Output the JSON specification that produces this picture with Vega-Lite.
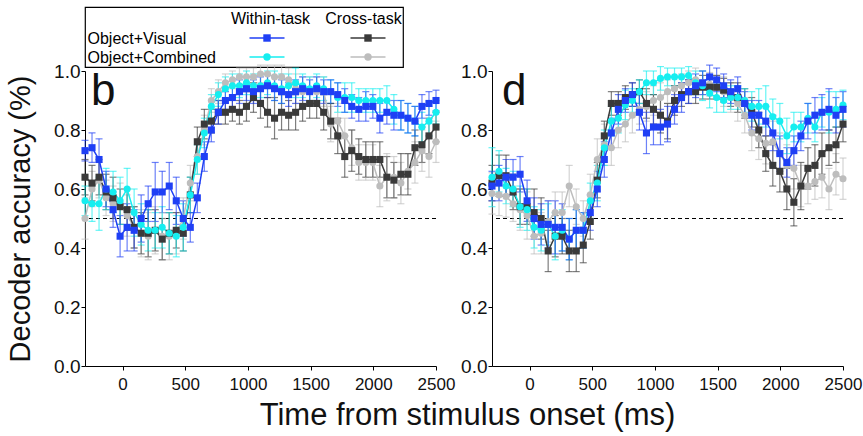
{
"$schema": "https://vega.github.io/schema/vega-lite/v6.json",
"background": "white",
"padding": {"left": 6, "top": 6, "right": 2, "bottom": 2},
"config": {"font": "Liberation Sans", "view": {"stroke": null}},
"datasets": {
"legend": [
{"col":"Within-task","row":"Object+Visual","s":"OV-W"},
{"col":"Cross-task","row":"Object+Visual","s":"OV-C"},
{"col":"Within-task","row":"Object+Combined","s":"OC-W"},
{"col":"Cross-task","row":"Object+Combined","s":"OC-C"}
],
"main": [
{"p":"b","s":"OC-C","t":-300,"v":0.50,"e":0.07},{"p":"b","s":"OC-C","t":-244,"v":0.60,"e":0.06},{"p":"b","s":"OC-C","t":-188,"v":0.63,"e":0.06},{"p":"b","s":"OC-C","t":-132,"v":0.57,"e":0.06},{"p":"b","s":"OC-C","t":-76,"v":0.55,"e":0.06},{"p":"b","s":"OC-C","t":-20,"v":0.55,"e":0.07},{"p":"b","s":"OC-C","t":36,"v":0.51,"e":0.07},{"p":"b","s":"OC-C","t":92,"v":0.47,"e":0.07},{"p":"b","s":"OC-C","t":148,"v":0.45,"e":0.08},{"p":"b","s":"OC-C","t":204,"v":0.44,"e":0.08},{"p":"b","s":"OC-C","t":260,"v":0.46,"e":0.08},{"p":"b","s":"OC-C","t":316,"v":0.44,"e":0.08},{"p":"b","s":"OC-C","t":372,"v":0.44,"e":0.08},{"p":"b","s":"OC-C","t":428,"v":0.45,"e":0.07},{"p":"b","s":"OC-C","t":484,"v":0.50,"e":0.07},{"p":"b","s":"OC-C","t":540,"v":0.62,"e":0.06},{"p":"b","s":"OC-C","t":596,"v":0.71,"e":0.06},{"p":"b","s":"OC-C","t":652,"v":0.80,"e":0.05},{"p":"b","s":"OC-C","t":708,"v":0.90,"e":0.04},{"p":"b","s":"OC-C","t":764,"v":0.93,"e":0.04},{"p":"b","s":"OC-C","t":820,"v":0.96,"e":0.03},{"p":"b","s":"OC-C","t":876,"v":0.97,"e":0.03},{"p":"b","s":"OC-C","t":932,"v":0.98,"e":0.03},{"p":"b","s":"OC-C","t":988,"v":0.98,"e":0.03},{"p":"b","s":"OC-C","t":1044,"v":0.98,"e":0.03},{"p":"b","s":"OC-C","t":1100,"v":0.99,"e":0.03},{"p":"b","s":"OC-C","t":1156,"v":0.99,"e":0.03},{"p":"b","s":"OC-C","t":1212,"v":0.98,"e":0.04},{"p":"b","s":"OC-C","t":1268,"v":0.98,"e":0.04},{"p":"b","s":"OC-C","t":1324,"v":0.97,"e":0.04},{"p":"b","s":"OC-C","t":1380,"v":0.94,"e":0.05},{"p":"b","s":"OC-C","t":1436,"v":0.93,"e":0.05},{"p":"b","s":"OC-C","t":1492,"v":0.93,"e":0.05},{"p":"b","s":"OC-C","t":1548,"v":0.93,"e":0.05},{"p":"b","s":"OC-C","t":1604,"v":0.93,"e":0.05},{"p":"b","s":"OC-C","t":1660,"v":0.82,"e":0.06},{"p":"b","s":"OC-C","t":1716,"v":0.83,"e":0.06},{"p":"b","s":"OC-C","t":1772,"v":0.78,"e":0.06},{"p":"b","s":"OC-C","t":1828,"v":0.74,"e":0.06},{"p":"b","s":"OC-C","t":1884,"v":0.69,"e":0.06},{"p":"b","s":"OC-C","t":1940,"v":0.69,"e":0.06},{"p":"b","s":"OC-C","t":1996,"v":0.69,"e":0.06},{"p":"b","s":"OC-C","t":2052,"v":0.61,"e":0.07},{"p":"b","s":"OC-C","t":2108,"v":0.64,"e":0.08},{"p":"b","s":"OC-C","t":2164,"v":0.64,"e":0.07},{"p":"b","s":"OC-C","t":2220,"v":0.62,"e":0.07},{"p":"b","s":"OC-C","t":2276,"v":0.66,"e":0.06},{"p":"b","s":"OC-C","t":2332,"v":0.69,"e":0.07},{"p":"b","s":"OC-C","t":2388,"v":0.73,"e":0.07},{"p":"b","s":"OC-C","t":2444,"v":0.71,"e":0.07},{"p":"b","s":"OC-C","t":2500,"v":0.76,"e":0.07},
{"p":"b","s":"OV-C","t":-300,"v":0.64,"e":0.06},{"p":"b","s":"OV-C","t":-244,"v":0.62,"e":0.06},{"p":"b","s":"OV-C","t":-188,"v":0.64,"e":0.06},{"p":"b","s":"OV-C","t":-132,"v":0.59,"e":0.06},{"p":"b","s":"OV-C","t":-76,"v":0.57,"e":0.07},{"p":"b","s":"OV-C","t":-20,"v":0.54,"e":0.06},{"p":"b","s":"OV-C","t":36,"v":0.53,"e":0.07},{"p":"b","s":"OV-C","t":92,"v":0.47,"e":0.07},{"p":"b","s":"OV-C","t":148,"v":0.45,"e":0.07},{"p":"b","s":"OV-C","t":204,"v":0.45,"e":0.08},{"p":"b","s":"OV-C","t":260,"v":0.46,"e":0.07},{"p":"b","s":"OV-C","t":316,"v":0.43,"e":0.07},{"p":"b","s":"OV-C","t":372,"v":0.45,"e":0.07},{"p":"b","s":"OV-C","t":428,"v":0.46,"e":0.06},{"p":"b","s":"OV-C","t":484,"v":0.45,"e":0.06},{"p":"b","s":"OV-C","t":540,"v":0.58,"e":0.06},{"p":"b","s":"OV-C","t":596,"v":0.76,"e":0.05},{"p":"b","s":"OV-C","t":652,"v":0.82,"e":0.05},{"p":"b","s":"OV-C","t":708,"v":0.83,"e":0.04},{"p":"b","s":"OV-C","t":764,"v":0.86,"e":0.04},{"p":"b","s":"OV-C","t":820,"v":0.86,"e":0.04},{"p":"b","s":"OV-C","t":876,"v":0.87,"e":0.04},{"p":"b","s":"OV-C","t":932,"v":0.86,"e":0.04},{"p":"b","s":"OV-C","t":988,"v":0.88,"e":0.05},{"p":"b","s":"OV-C","t":1044,"v":0.91,"e":0.05},{"p":"b","s":"OV-C","t":1100,"v":0.89,"e":0.05},{"p":"b","s":"OV-C","t":1156,"v":0.86,"e":0.05},{"p":"b","s":"OV-C","t":1212,"v":0.84,"e":0.07},{"p":"b","s":"OV-C","t":1268,"v":0.86,"e":0.06},{"p":"b","s":"OV-C","t":1324,"v":0.85,"e":0.05},{"p":"b","s":"OV-C","t":1380,"v":0.86,"e":0.06},{"p":"b","s":"OV-C","t":1436,"v":0.88,"e":0.05},{"p":"b","s":"OV-C","t":1492,"v":0.89,"e":0.05},{"p":"b","s":"OV-C","t":1548,"v":0.89,"e":0.05},{"p":"b","s":"OV-C","t":1604,"v":0.86,"e":0.06},{"p":"b","s":"OV-C","t":1660,"v":0.83,"e":0.06},{"p":"b","s":"OV-C","t":1716,"v":0.78,"e":0.06},{"p":"b","s":"OV-C","t":1772,"v":0.71,"e":0.07},{"p":"b","s":"OV-C","t":1828,"v":0.73,"e":0.07},{"p":"b","s":"OV-C","t":1884,"v":0.71,"e":0.06},{"p":"b","s":"OV-C","t":1940,"v":0.70,"e":0.06},{"p":"b","s":"OV-C","t":1996,"v":0.70,"e":0.06},{"p":"b","s":"OV-C","t":2052,"v":0.70,"e":0.06},{"p":"b","s":"OV-C","t":2108,"v":0.64,"e":0.07},{"p":"b","s":"OV-C","t":2164,"v":0.63,"e":0.06},{"p":"b","s":"OV-C","t":2220,"v":0.65,"e":0.07},{"p":"b","s":"OV-C","t":2276,"v":0.65,"e":0.07},{"p":"b","s":"OV-C","t":2332,"v":0.74,"e":0.06},{"p":"b","s":"OV-C","t":2388,"v":0.75,"e":0.06},{"p":"b","s":"OV-C","t":2444,"v":0.78,"e":0.06},{"p":"b","s":"OV-C","t":2500,"v":0.81,"e":0.05},
{"p":"b","s":"OC-W","t":-300,"v":0.56,"e":0.05},{"p":"b","s":"OC-W","t":-244,"v":0.55,"e":0.06},{"p":"b","s":"OC-W","t":-188,"v":0.55,"e":0.09},{"p":"b","s":"OC-W","t":-132,"v":0.60,"e":0.07},{"p":"b","s":"OC-W","t":-76,"v":0.59,"e":0.07},{"p":"b","s":"OC-W","t":-20,"v":0.56,"e":0.08},{"p":"b","s":"OC-W","t":36,"v":0.60,"e":0.07},{"p":"b","s":"OC-W","t":92,"v":0.52,"e":0.08},{"p":"b","s":"OC-W","t":148,"v":0.48,"e":0.07},{"p":"b","s":"OC-W","t":204,"v":0.46,"e":0.07},{"p":"b","s":"OC-W","t":260,"v":0.46,"e":0.06},{"p":"b","s":"OC-W","t":316,"v":0.47,"e":0.07},{"p":"b","s":"OC-W","t":372,"v":0.45,"e":0.07},{"p":"b","s":"OC-W","t":428,"v":0.44,"e":0.07},{"p":"b","s":"OC-W","t":484,"v":0.47,"e":0.08},{"p":"b","s":"OC-W","t":540,"v":0.58,"e":0.06},{"p":"b","s":"OC-W","t":596,"v":0.70,"e":0.05},{"p":"b","s":"OC-W","t":652,"v":0.79,"e":0.05},{"p":"b","s":"OC-W","t":708,"v":0.88,"e":0.04},{"p":"b","s":"OC-W","t":764,"v":0.92,"e":0.04},{"p":"b","s":"OC-W","t":820,"v":0.94,"e":0.04},{"p":"b","s":"OC-W","t":876,"v":0.95,"e":0.04},{"p":"b","s":"OC-W","t":932,"v":0.95,"e":0.04},{"p":"b","s":"OC-W","t":988,"v":0.96,"e":0.04},{"p":"b","s":"OC-W","t":1044,"v":0.95,"e":0.04},{"p":"b","s":"OC-W","t":1100,"v":0.95,"e":0.04},{"p":"b","s":"OC-W","t":1156,"v":0.96,"e":0.04},{"p":"b","s":"OC-W","t":1212,"v":0.95,"e":0.05},{"p":"b","s":"OC-W","t":1268,"v":0.94,"e":0.05},{"p":"b","s":"OC-W","t":1324,"v":0.95,"e":0.04},{"p":"b","s":"OC-W","t":1380,"v":0.96,"e":0.05},{"p":"b","s":"OC-W","t":1436,"v":0.95,"e":0.04},{"p":"b","s":"OC-W","t":1492,"v":0.94,"e":0.04},{"p":"b","s":"OC-W","t":1548,"v":0.95,"e":0.04},{"p":"b","s":"OC-W","t":1604,"v":0.94,"e":0.04},{"p":"b","s":"OC-W","t":1660,"v":0.93,"e":0.04},{"p":"b","s":"OC-W","t":1716,"v":0.91,"e":0.05},{"p":"b","s":"OC-W","t":1772,"v":0.91,"e":0.05},{"p":"b","s":"OC-W","t":1828,"v":0.91,"e":0.05},{"p":"b","s":"OC-W","t":1884,"v":0.90,"e":0.04},{"p":"b","s":"OC-W","t":1940,"v":0.90,"e":0.04},{"p":"b","s":"OC-W","t":1996,"v":0.90,"e":0.04},{"p":"b","s":"OC-W","t":2052,"v":0.90,"e":0.04},{"p":"b","s":"OC-W","t":2108,"v":0.90,"e":0.05},{"p":"b","s":"OC-W","t":2164,"v":0.87,"e":0.05},{"p":"b","s":"OC-W","t":2220,"v":0.85,"e":0.05},{"p":"b","s":"OC-W","t":2276,"v":0.84,"e":0.05},{"p":"b","s":"OC-W","t":2332,"v":0.83,"e":0.05},{"p":"b","s":"OC-W","t":2388,"v":0.81,"e":0.05},{"p":"b","s":"OC-W","t":2444,"v":0.83,"e":0.05},{"p":"b","s":"OC-W","t":2500,"v":0.86,"e":0.04},
{"p":"b","s":"OV-W","t":-300,"v":0.73,"e":0.035},{"p":"b","s":"OV-W","t":-244,"v":0.74,"e":0.05},{"p":"b","s":"OV-W","t":-188,"v":0.70,"e":0.07},{"p":"b","s":"OV-W","t":-132,"v":0.60,"e":0.06},{"p":"b","s":"OV-W","t":-76,"v":0.53,"e":0.06},{"p":"b","s":"OV-W","t":-20,"v":0.44,"e":0.07},{"p":"b","s":"OV-W","t":36,"v":0.47,"e":0.08},{"p":"b","s":"OV-W","t":92,"v":0.46,"e":0.07},{"p":"b","s":"OV-W","t":148,"v":0.50,"e":0.08},{"p":"b","s":"OV-W","t":204,"v":0.55,"e":0.06},{"p":"b","s":"OV-W","t":260,"v":0.59,"e":0.10},{"p":"b","s":"OV-W","t":316,"v":0.59,"e":0.07},{"p":"b","s":"OV-W","t":372,"v":0.61,"e":0.08},{"p":"b","s":"OV-W","t":428,"v":0.56,"e":0.08},{"p":"b","s":"OV-W","t":484,"v":0.50,"e":0.06},{"p":"b","s":"OV-W","t":540,"v":0.47,"e":0.05},{"p":"b","s":"OV-W","t":596,"v":0.57,"e":0.05},{"p":"b","s":"OV-W","t":652,"v":0.71,"e":0.05},{"p":"b","s":"OV-W","t":708,"v":0.80,"e":0.04},{"p":"b","s":"OV-W","t":764,"v":0.86,"e":0.04},{"p":"b","s":"OV-W","t":820,"v":0.90,"e":0.03},{"p":"b","s":"OV-W","t":876,"v":0.91,"e":0.04},{"p":"b","s":"OV-W","t":932,"v":0.93,"e":0.04},{"p":"b","s":"OV-W","t":988,"v":0.94,"e":0.04},{"p":"b","s":"OV-W","t":1044,"v":0.93,"e":0.04},{"p":"b","s":"OV-W","t":1100,"v":0.94,"e":0.04},{"p":"b","s":"OV-W","t":1156,"v":0.95,"e":0.04},{"p":"b","s":"OV-W","t":1212,"v":0.94,"e":0.04},{"p":"b","s":"OV-W","t":1268,"v":0.93,"e":0.04},{"p":"b","s":"OV-W","t":1324,"v":0.92,"e":0.04},{"p":"b","s":"OV-W","t":1380,"v":0.93,"e":0.04},{"p":"b","s":"OV-W","t":1436,"v":0.94,"e":0.04},{"p":"b","s":"OV-W","t":1492,"v":0.93,"e":0.04},{"p":"b","s":"OV-W","t":1548,"v":0.94,"e":0.04},{"p":"b","s":"OV-W","t":1604,"v":0.93,"e":0.04},{"p":"b","s":"OV-W","t":1660,"v":0.93,"e":0.04},{"p":"b","s":"OV-W","t":1716,"v":0.92,"e":0.04},{"p":"b","s":"OV-W","t":1772,"v":0.90,"e":0.04},{"p":"b","s":"OV-W","t":1828,"v":0.88,"e":0.04},{"p":"b","s":"OV-W","t":1884,"v":0.87,"e":0.04},{"p":"b","s":"OV-W","t":1940,"v":0.88,"e":0.05},{"p":"b","s":"OV-W","t":1996,"v":0.88,"e":0.04},{"p":"b","s":"OV-W","t":2052,"v":0.84,"e":0.05},{"p":"b","s":"OV-W","t":2108,"v":0.86,"e":0.04},{"p":"b","s":"OV-W","t":2164,"v":0.85,"e":0.05},{"p":"b","s":"OV-W","t":2220,"v":0.85,"e":0.05},{"p":"b","s":"OV-W","t":2276,"v":0.84,"e":0.05},{"p":"b","s":"OV-W","t":2332,"v":0.83,"e":0.05},{"p":"b","s":"OV-W","t":2388,"v":0.88,"e":0.04},{"p":"b","s":"OV-W","t":2444,"v":0.89,"e":0.04},{"p":"b","s":"OV-W","t":2500,"v":0.90,"e":0.035},
{"p":"d","s":"OC-C","t":-300,"v":0.585,"e":0.07},{"p":"d","s":"OC-C","t":-244,"v":0.58,"e":0.07},{"p":"d","s":"OC-C","t":-188,"v":0.575,"e":0.07},{"p":"d","s":"OC-C","t":-132,"v":0.55,"e":0.06},{"p":"d","s":"OC-C","t":-76,"v":0.53,"e":0.07},{"p":"d","s":"OC-C","t":-20,"v":0.51,"e":0.08},{"p":"d","s":"OC-C","t":36,"v":0.44,"e":0.06},{"p":"d","s":"OC-C","t":92,"v":0.45,"e":0.07},{"p":"d","s":"OC-C","t":148,"v":0.49,"e":0.07},{"p":"d","s":"OC-C","t":204,"v":0.52,"e":0.07},{"p":"d","s":"OC-C","t":260,"v":0.52,"e":0.07},{"p":"d","s":"OC-C","t":316,"v":0.61,"e":0.07},{"p":"d","s":"OC-C","t":372,"v":0.54,"e":0.06},{"p":"d","s":"OC-C","t":428,"v":0.50,"e":0.06},{"p":"d","s":"OC-C","t":484,"v":0.58,"e":0.07},{"p":"d","s":"OC-C","t":540,"v":0.70,"e":0.07},{"p":"d","s":"OC-C","t":596,"v":0.75,"e":0.07},{"p":"d","s":"OC-C","t":652,"v":0.74,"e":0.06},{"p":"d","s":"OC-C","t":708,"v":0.80,"e":0.06},{"p":"d","s":"OC-C","t":764,"v":0.82,"e":0.06},{"p":"d","s":"OC-C","t":820,"v":0.85,"e":0.06},{"p":"d","s":"OC-C","t":876,"v":0.87,"e":0.05},{"p":"d","s":"OC-C","t":932,"v":0.88,"e":0.05},{"p":"d","s":"OC-C","t":988,"v":0.90,"e":0.05},{"p":"d","s":"OC-C","t":1044,"v":0.91,"e":0.05},{"p":"d","s":"OC-C","t":1100,"v":0.93,"e":0.04},{"p":"d","s":"OC-C","t":1156,"v":0.94,"e":0.04},{"p":"d","s":"OC-C","t":1212,"v":0.95,"e":0.04},{"p":"d","s":"OC-C","t":1268,"v":0.96,"e":0.04},{"p":"d","s":"OC-C","t":1324,"v":0.97,"e":0.04},{"p":"d","s":"OC-C","t":1380,"v":0.96,"e":0.04},{"p":"d","s":"OC-C","t":1436,"v":0.955,"e":0.04},{"p":"d","s":"OC-C","t":1492,"v":0.945,"e":0.04},{"p":"d","s":"OC-C","t":1548,"v":0.93,"e":0.05},{"p":"d","s":"OC-C","t":1604,"v":0.91,"e":0.05},{"p":"d","s":"OC-C","t":1660,"v":0.89,"e":0.06},{"p":"d","s":"OC-C","t":1716,"v":0.85,"e":0.06},{"p":"d","s":"OC-C","t":1772,"v":0.79,"e":0.06},{"p":"d","s":"OC-C","t":1828,"v":0.77,"e":0.07},{"p":"d","s":"OC-C","t":1884,"v":0.755,"e":0.07},{"p":"d","s":"OC-C","t":1940,"v":0.76,"e":0.07},{"p":"d","s":"OC-C","t":1996,"v":0.72,"e":0.07},{"p":"d","s":"OC-C","t":2052,"v":0.68,"e":0.07},{"p":"d","s":"OC-C","t":2108,"v":0.67,"e":0.07},{"p":"d","s":"OC-C","t":2164,"v":0.61,"e":0.07},{"p":"d","s":"OC-C","t":2220,"v":0.61,"e":0.06},{"p":"d","s":"OC-C","t":2276,"v":0.625,"e":0.06},{"p":"d","s":"OC-C","t":2332,"v":0.64,"e":0.07},{"p":"d","s":"OC-C","t":2388,"v":0.60,"e":0.07},{"p":"d","s":"OC-C","t":2444,"v":0.65,"e":0.07},{"p":"d","s":"OC-C","t":2500,"v":0.635,"e":0.07},
{"p":"d","s":"OV-C","t":-300,"v":0.62,"e":0.06},{"p":"d","s":"OV-C","t":-244,"v":0.645,"e":0.07},{"p":"d","s":"OV-C","t":-188,"v":0.645,"e":0.07},{"p":"d","s":"OV-C","t":-132,"v":0.59,"e":0.06},{"p":"d","s":"OV-C","t":-76,"v":0.54,"e":0.06},{"p":"d","s":"OV-C","t":-20,"v":0.54,"e":0.06},{"p":"d","s":"OV-C","t":36,"v":0.52,"e":0.08},{"p":"d","s":"OV-C","t":92,"v":0.50,"e":0.07},{"p":"d","s":"OV-C","t":148,"v":0.39,"e":0.07},{"p":"d","s":"OV-C","t":204,"v":0.44,"e":0.07},{"p":"d","s":"OV-C","t":260,"v":0.44,"e":0.06},{"p":"d","s":"OV-C","t":316,"v":0.39,"e":0.07},{"p":"d","s":"OV-C","t":372,"v":0.39,"e":0.07},{"p":"d","s":"OV-C","t":428,"v":0.41,"e":0.06},{"p":"d","s":"OV-C","t":484,"v":0.49,"e":0.06},{"p":"d","s":"OV-C","t":540,"v":0.63,"e":0.06},{"p":"d","s":"OV-C","t":596,"v":0.78,"e":0.05},{"p":"d","s":"OV-C","t":652,"v":0.89,"e":0.04},{"p":"d","s":"OV-C","t":708,"v":0.89,"e":0.04},{"p":"d","s":"OV-C","t":764,"v":0.91,"e":0.04},{"p":"d","s":"OV-C","t":820,"v":0.92,"e":0.04},{"p":"d","s":"OV-C","t":876,"v":0.93,"e":0.04},{"p":"d","s":"OV-C","t":932,"v":0.89,"e":0.05},{"p":"d","s":"OV-C","t":988,"v":0.87,"e":0.05},{"p":"d","s":"OV-C","t":1044,"v":0.85,"e":0.06},{"p":"d","s":"OV-C","t":1100,"v":0.83,"e":0.06},{"p":"d","s":"OV-C","t":1156,"v":0.90,"e":0.05},{"p":"d","s":"OV-C","t":1212,"v":0.92,"e":0.04},{"p":"d","s":"OV-C","t":1268,"v":0.93,"e":0.04},{"p":"d","s":"OV-C","t":1324,"v":0.93,"e":0.04},{"p":"d","s":"OV-C","t":1380,"v":0.945,"e":0.04},{"p":"d","s":"OV-C","t":1436,"v":0.945,"e":0.04},{"p":"d","s":"OV-C","t":1492,"v":0.945,"e":0.04},{"p":"d","s":"OV-C","t":1548,"v":0.935,"e":0.04},{"p":"d","s":"OV-C","t":1604,"v":0.92,"e":0.04},{"p":"d","s":"OV-C","t":1660,"v":0.91,"e":0.05},{"p":"d","s":"OV-C","t":1716,"v":0.89,"e":0.05},{"p":"d","s":"OV-C","t":1772,"v":0.86,"e":0.05},{"p":"d","s":"OV-C","t":1828,"v":0.80,"e":0.06},{"p":"d","s":"OV-C","t":1884,"v":0.72,"e":0.06},{"p":"d","s":"OV-C","t":1940,"v":0.68,"e":0.07},{"p":"d","s":"OV-C","t":1996,"v":0.66,"e":0.07},{"p":"d","s":"OV-C","t":2052,"v":0.60,"e":0.07},{"p":"d","s":"OV-C","t":2108,"v":0.555,"e":0.08},{"p":"d","s":"OV-C","t":2164,"v":0.61,"e":0.08},{"p":"d","s":"OV-C","t":2220,"v":0.67,"e":0.07},{"p":"d","s":"OV-C","t":2276,"v":0.68,"e":0.07},{"p":"d","s":"OV-C","t":2332,"v":0.72,"e":0.07},{"p":"d","s":"OV-C","t":2388,"v":0.74,"e":0.06},{"p":"d","s":"OV-C","t":2444,"v":0.75,"e":0.06},{"p":"d","s":"OV-C","t":2500,"v":0.82,"e":0.06},
{"p":"d","s":"OC-W","t":-300,"v":0.64,"e":0.10},{"p":"d","s":"OC-W","t":-244,"v":0.66,"e":0.07},{"p":"d","s":"OC-W","t":-188,"v":0.61,"e":0.06},{"p":"d","s":"OC-W","t":-132,"v":0.60,"e":0.06},{"p":"d","s":"OC-W","t":-76,"v":0.54,"e":0.07},{"p":"d","s":"OC-W","t":-20,"v":0.53,"e":0.07},{"p":"d","s":"OC-W","t":36,"v":0.47,"e":0.07},{"p":"d","s":"OC-W","t":92,"v":0.46,"e":0.07},{"p":"d","s":"OC-W","t":148,"v":0.48,"e":0.07},{"p":"d","s":"OC-W","t":204,"v":0.44,"e":0.08},{"p":"d","s":"OC-W","t":260,"v":0.46,"e":0.07},{"p":"d","s":"OC-W","t":316,"v":0.43,"e":0.07},{"p":"d","s":"OC-W","t":372,"v":0.46,"e":0.07},{"p":"d","s":"OC-W","t":428,"v":0.46,"e":0.06},{"p":"d","s":"OC-W","t":484,"v":0.56,"e":0.06},{"p":"d","s":"OC-W","t":540,"v":0.62,"e":0.06},{"p":"d","s":"OC-W","t":596,"v":0.74,"e":0.06},{"p":"d","s":"OC-W","t":652,"v":0.83,"e":0.05},{"p":"d","s":"OC-W","t":708,"v":0.84,"e":0.05},{"p":"d","s":"OC-W","t":764,"v":0.885,"e":0.05},{"p":"d","s":"OC-W","t":820,"v":0.90,"e":0.04},{"p":"d","s":"OC-W","t":876,"v":0.93,"e":0.04},{"p":"d","s":"OC-W","t":932,"v":0.96,"e":0.04},{"p":"d","s":"OC-W","t":988,"v":0.96,"e":0.04},{"p":"d","s":"OC-W","t":1044,"v":0.975,"e":0.04},{"p":"d","s":"OC-W","t":1100,"v":0.98,"e":0.03},{"p":"d","s":"OC-W","t":1156,"v":0.98,"e":0.03},{"p":"d","s":"OC-W","t":1212,"v":0.98,"e":0.03},{"p":"d","s":"OC-W","t":1268,"v":0.985,"e":0.03},{"p":"d","s":"OC-W","t":1324,"v":0.96,"e":0.04},{"p":"d","s":"OC-W","t":1380,"v":0.95,"e":0.05},{"p":"d","s":"OC-W","t":1436,"v":0.925,"e":0.05},{"p":"d","s":"OC-W","t":1492,"v":0.91,"e":0.05},{"p":"d","s":"OC-W","t":1548,"v":0.90,"e":0.04},{"p":"d","s":"OC-W","t":1604,"v":0.91,"e":0.04},{"p":"d","s":"OC-W","t":1660,"v":0.91,"e":0.04},{"p":"d","s":"OC-W","t":1716,"v":0.90,"e":0.04},{"p":"d","s":"OC-W","t":1772,"v":0.88,"e":0.05},{"p":"d","s":"OC-W","t":1828,"v":0.88,"e":0.06},{"p":"d","s":"OC-W","t":1884,"v":0.88,"e":0.07},{"p":"d","s":"OC-W","t":1940,"v":0.845,"e":0.06},{"p":"d","s":"OC-W","t":1996,"v":0.83,"e":0.06},{"p":"d","s":"OC-W","t":2052,"v":0.78,"e":0.06},{"p":"d","s":"OC-W","t":2108,"v":0.81,"e":0.05},{"p":"d","s":"OC-W","t":2164,"v":0.81,"e":0.05},{"p":"d","s":"OC-W","t":2220,"v":0.84,"e":0.05},{"p":"d","s":"OC-W","t":2276,"v":0.81,"e":0.05},{"p":"d","s":"OC-W","t":2332,"v":0.86,"e":0.05},{"p":"d","s":"OC-W","t":2388,"v":0.86,"e":0.07},{"p":"d","s":"OC-W","t":2444,"v":0.87,"e":0.06},{"p":"d","s":"OC-W","t":2500,"v":0.885,"e":0.05},
{"p":"d","s":"OV-W","t":-300,"v":0.61,"e":0.05},{"p":"d","s":"OV-W","t":-244,"v":0.62,"e":0.06},{"p":"d","s":"OV-W","t":-188,"v":0.64,"e":0.06},{"p":"d","s":"OV-W","t":-132,"v":0.64,"e":0.06},{"p":"d","s":"OV-W","t":-76,"v":0.65,"e":0.06},{"p":"d","s":"OV-W","t":-20,"v":0.56,"e":0.07},{"p":"d","s":"OV-W","t":36,"v":0.50,"e":0.07},{"p":"d","s":"OV-W","t":92,"v":0.48,"e":0.07},{"p":"d","s":"OV-W","t":148,"v":0.48,"e":0.08},{"p":"d","s":"OV-W","t":204,"v":0.47,"e":0.09},{"p":"d","s":"OV-W","t":260,"v":0.47,"e":0.08},{"p":"d","s":"OV-W","t":316,"v":0.43,"e":0.07},{"p":"d","s":"OV-W","t":372,"v":0.46,"e":0.07},{"p":"d","s":"OV-W","t":428,"v":0.46,"e":0.06},{"p":"d","s":"OV-W","t":484,"v":0.52,"e":0.06},{"p":"d","s":"OV-W","t":540,"v":0.60,"e":0.06},{"p":"d","s":"OV-W","t":596,"v":0.70,"e":0.06},{"p":"d","s":"OV-W","t":652,"v":0.79,"e":0.05},{"p":"d","s":"OV-W","t":708,"v":0.87,"e":0.05},{"p":"d","s":"OV-W","t":764,"v":0.90,"e":0.04},{"p":"d","s":"OV-W","t":820,"v":0.92,"e":0.04},{"p":"d","s":"OV-W","t":876,"v":0.86,"e":0.06},{"p":"d","s":"OV-W","t":932,"v":0.79,"e":0.07},{"p":"d","s":"OV-W","t":988,"v":0.81,"e":0.06},{"p":"d","s":"OV-W","t":1044,"v":0.81,"e":0.06},{"p":"d","s":"OV-W","t":1100,"v":0.82,"e":0.06},{"p":"d","s":"OV-W","t":1156,"v":0.87,"e":0.05},{"p":"d","s":"OV-W","t":1212,"v":0.91,"e":0.05},{"p":"d","s":"OV-W","t":1268,"v":0.93,"e":0.04},{"p":"d","s":"OV-W","t":1324,"v":0.95,"e":0.04},{"p":"d","s":"OV-W","t":1380,"v":0.96,"e":0.04},{"p":"d","s":"OV-W","t":1436,"v":0.98,"e":0.04},{"p":"d","s":"OV-W","t":1492,"v":0.97,"e":0.04},{"p":"d","s":"OV-W","t":1548,"v":0.95,"e":0.04},{"p":"d","s":"OV-W","t":1604,"v":0.93,"e":0.04},{"p":"d","s":"OV-W","t":1660,"v":0.94,"e":0.04},{"p":"d","s":"OV-W","t":1716,"v":0.89,"e":0.04},{"p":"d","s":"OV-W","t":1772,"v":0.85,"e":0.05},{"p":"d","s":"OV-W","t":1828,"v":0.85,"e":0.05},{"p":"d","s":"OV-W","t":1884,"v":0.83,"e":0.05},{"p":"d","s":"OV-W","t":1940,"v":0.79,"e":0.06},{"p":"d","s":"OV-W","t":1996,"v":0.72,"e":0.06},{"p":"d","s":"OV-W","t":2052,"v":0.69,"e":0.05},{"p":"d","s":"OV-W","t":2108,"v":0.73,"e":0.05},{"p":"d","s":"OV-W","t":2164,"v":0.78,"e":0.05},{"p":"d","s":"OV-W","t":2220,"v":0.83,"e":0.06},{"p":"d","s":"OV-W","t":2276,"v":0.85,"e":0.06},{"p":"d","s":"OV-W","t":2332,"v":0.86,"e":0.06},{"p":"d","s":"OV-W","t":2388,"v":0.87,"e":0.07},{"p":"d","s":"OV-W","t":2444,"v":0.85,"e":0.06},{"p":"d","s":"OV-W","t":2500,"v":0.87,"e":0.06}
]
},
"spacing": 4,
"bounds": "flush",
"resolve": {"scale": {"x": "independent", "y": "independent", "color": "shared", "shape": "shared"}},
"vconcat": [
{
 "width": 318, "height": 60,
 "view": {"stroke": "#000", "strokeWidth": 1.2},
 "data": {"name": "legend"},
 "encoding": {
  "x": {"field": "col", "type": "nominal", "scale": {"type": "point", "domain": ["Within-task", "Cross-task"], "range": [182, 283], "padding": 0},
        "axis": {"orient": "top", "title": null, "domain": false, "ticks": false, "tickSize": 0, "labelPadding": -11, "labelBaseline": "middle", "labelAngle": 0, "labelFontSize": 16, "labelColor": "#000",
                 "labelOffset": {"condition": {"test": "datum.value === 'Within-task'", "value": 3}, "value": -5}}},
  "y": {"field": "row", "type": "nominal", "scale": {"type": "point", "domain": ["Object+Visual", "Object+Combined"], "range": [31, 50], "padding": 0},
        "axis": {"orient": "left", "title": null, "domain": false, "ticks": false, "tickSize": 0, "labelPadding": -2, "labelAlign": "left", "labelBaseline": "middle", "labelFontSize": 16, "labelColor": "#000"}},
  "color": {"field": "s", "type": "nominal", "scale": {"domain": ["OC-C", "OV-C", "OC-W", "OV-W"], "range": ["#bdbdbd", "#3a3a3a", "#16eef0", "#1f3ff5"]}, "legend": null}
 },
 "layer": [
  {"mark": {"type": "point", "shape": "M-1,0L1,0", "filled": false, "size": 1225, "strokeWidth": 1.5, "opacity": 1}},
  {"mark": {"type": "point", "filled": true, "size": 55, "opacity": 1},
   "encoding": {"shape": {"field": "s", "type": "nominal", "scale": {"domain": ["OC-C", "OV-C", "OC-W", "OV-W"], "range": ["circle", "square", "circle", "square"]}, "legend": null}}}
 ]
},
{
 "spacing": 56,
 "bounds": "flush",
 "resolve": {"scale": {"x": "independent", "y": "independent", "color": "shared", "shape": "shared"}},
 "hconcat": [
  {
   "width": 351, "height": 295,
   "layer": [
    {"data": {"values": [{}]}, "mark": {"type": "rule", "strokeDash": [4, 3], "color": "#000", "strokeWidth": 1},
     "encoding": {"y": {"datum": 0.5, "type": "quantitative", "scale": {"domain": [0, 1], "nice": false}}}},
    {"data": {"name": "main"},
     "transform": [{"filter": {"field": "p", "equal": "b"}}],
     "encoding": {
      "x": {"field": "t", "type": "quantitative", "scale": {"domain": [-300, 2500], "nice": false, "zero": false},
            "axis": {"values": [0, 500, 1000, 1500, 2000, 2500], "format": "d", "tickSize": 4,
                     "labelOverlap": false, "labelFlush": false, "labelFontSize": 17, "labelPadding": 6, "labelColor": "#111",
                     "grid": false, "domainColor": "#000", "tickColor": "#000",
                     "title": "Time from stimulus onset (ms)", "titleFontSize": 31, "titleFontWeight": "normal", "titleColor": "#111",
                     "titleX": 382, "titleY": 58, "titleBaseline": "alphabetic", "titleAlign": "center"}},
      "y": {"field": "v", "type": "quantitative", "scale": {"domain": [0, 1], "nice": false},
            "axis": {"values": [0, 0.1, 0.2, 0.3, 0.4, 0.5, 0.6, 0.7, 0.8, 0.9, 1.0], "format": ".1f",
                     "labelExpr": "round(datum.value * 10) % 2 === 0 ? datum.label : ''",
                     "tickSize": {"condition": {"test": "round(datum.value * 10) % 2 === 0", "value": 4}, "value": 3},
                     "labelOverlap": false, "labelFlush": false, "labelFontSize": 19, "labelPadding": 1, "labelColor": "#111",
                     "grid": false, "domainColor": "#000", "tickColor": "#000",
                     "title": "Decoder accuracy (%)", "titleFontSize": 29, "titleFontWeight": "normal", "titleColor": "#111", "titlePadding": 18}},
      "color": {"field": "s", "type": "nominal", "scale": {"domain": ["OC-C", "OV-C", "OC-W", "OV-W"], "range": ["#bdbdbd", "#3a3a3a", "#16eef0", "#1f3ff5"]}, "legend": null}
     },
     "layer": [
      {"mark": {"type": "errorbar", "ticks": true, "size": 7, "thickness": 1.2, "opacity": 0.65}, "encoding": {"yError": {"field": "e"}}},
      {"mark": {"type": "line", "strokeWidth": 1.5}},
      {"mark": {"type": "point", "filled": true, "opacity": 1, "size": 50},
       "encoding": {"shape": {"field": "s", "type": "nominal", "scale": {"domain": ["OC-C", "OV-C", "OC-W", "OV-W"], "range": ["circle", "square", "circle", "square"]}, "legend": null}}}
     ]
    },
    {"data": {"values": [{"lab": "b"}]}, "mark": {"type": "text", "align": "left", "baseline": "alphabetic", "fontSize": 44, "dx": 6, "dy": 34, "color": "#111"},
     "encoding": {"x": {"datum": -300, "type": "quantitative", "scale": {"domain": [-300, 2500], "nice": false, "zero": false}},
                  "y": {"datum": 1, "type": "quantitative", "scale": {"domain": [0, 1], "nice": false}},
                  "text": {"field": "lab"}}}
   ]
  },
  {
   "width": 351, "height": 295,
   "layer": [
    {"data": {"values": [{}]}, "mark": {"type": "rule", "strokeDash": [4, 3], "color": "#000", "strokeWidth": 1},
     "encoding": {"y": {"datum": 0.5, "type": "quantitative", "scale": {"domain": [0, 1], "nice": false}}}},
    {"data": {"name": "main"},
     "transform": [{"filter": {"field": "p", "equal": "d"}}],
     "encoding": {
      "x": {"field": "t", "type": "quantitative", "scale": {"domain": [-300, 2500], "nice": false, "zero": false},
            "axis": {"values": [0, 500, 1000, 1500, 2000, 2500], "format": "d", "tickSize": 4,
                     "labelOverlap": false, "labelFlush": false, "labelFontSize": 17, "labelPadding": 6, "labelColor": "#111",
                     "grid": false, "domainColor": "#000", "tickColor": "#000", "title": null}},
      "y": {"field": "v", "type": "quantitative", "scale": {"domain": [0, 1], "nice": false},
            "axis": {"values": [0, 0.1, 0.2, 0.3, 0.4, 0.5, 0.6, 0.7, 0.8, 0.9, 1.0], "format": ".1f",
                     "labelExpr": "round(datum.value * 10) % 2 === 0 ? datum.label : ''",
                     "tickSize": {"condition": {"test": "round(datum.value * 10) % 2 === 0", "value": 4}, "value": 3},
                     "labelOverlap": false, "labelFlush": false, "labelFontSize": 19, "labelPadding": 1, "labelColor": "#111",
                     "grid": false, "domainColor": "#000", "tickColor": "#000", "title": null}},
      "color": {"field": "s", "type": "nominal", "scale": {"domain": ["OC-C", "OV-C", "OC-W", "OV-W"], "range": ["#bdbdbd", "#3a3a3a", "#16eef0", "#1f3ff5"]}, "legend": null}
     },
     "layer": [
      {"mark": {"type": "errorbar", "ticks": true, "size": 7, "thickness": 1.2, "opacity": 0.65}, "encoding": {"yError": {"field": "e"}}},
      {"mark": {"type": "line", "strokeWidth": 1.5}},
      {"mark": {"type": "point", "filled": true, "opacity": 1, "size": 50},
       "encoding": {"shape": {"field": "s", "type": "nominal", "scale": {"domain": ["OC-C", "OV-C", "OC-W", "OV-W"], "range": ["circle", "square", "circle", "square"]}, "legend": null}}}
     ]
    },
    {"data": {"values": [{"lab": "d"}]}, "mark": {"type": "text", "align": "left", "baseline": "alphabetic", "fontSize": 44, "dx": 10, "dy": 34, "color": "#111"},
     "encoding": {"x": {"datum": -300, "type": "quantitative", "scale": {"domain": [-300, 2500], "nice": false, "zero": false}},
                  "y": {"datum": 1, "type": "quantitative", "scale": {"domain": [0, 1], "nice": false}},
                  "text": {"field": "lab"}}}
   ]
  }
 ]
}
]
}
